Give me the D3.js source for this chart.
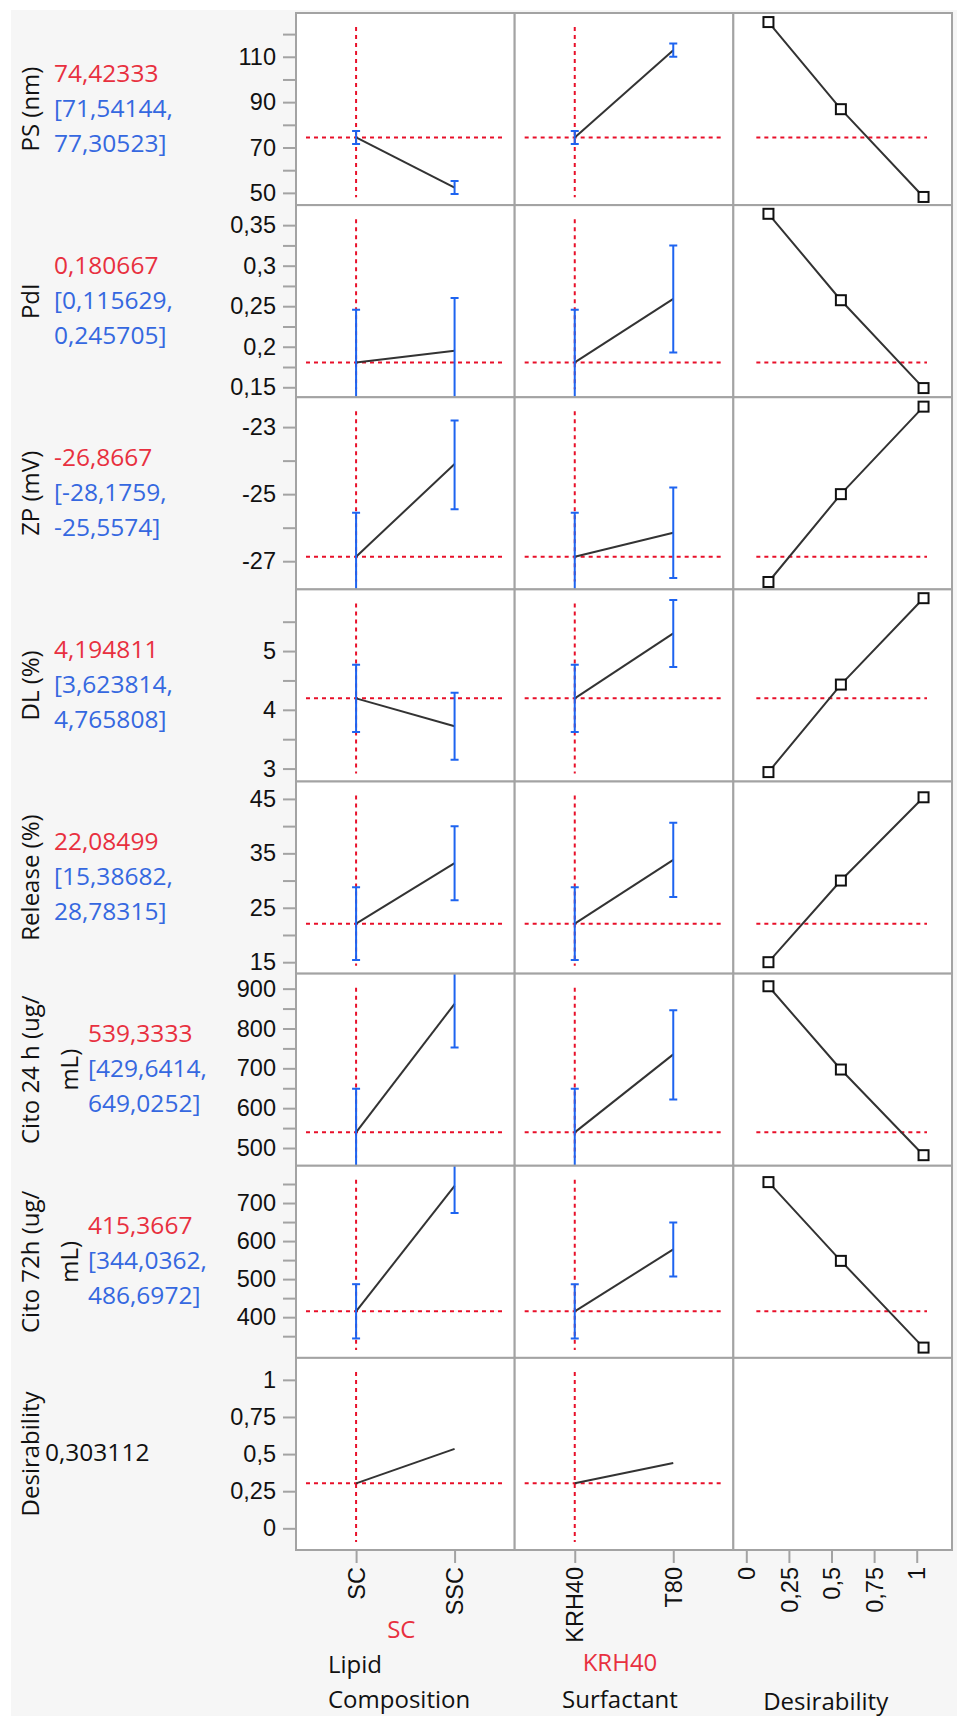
<!DOCTYPE html>
<html>
<head>
<meta charset="utf-8">
<script src="https://cdn.jsdelivr.net/npm/d3@7"></script>
<style>
  body { margin: 0; background: #fff; }
  svg { display: block; font-family: "Open Sans", "Noto Sans", sans-serif; }
</style>
</head>
<body>
<svg id="chart" width="957" height="1716"></svg>
<script>
// responses (rows) and their current predicted value + interval
const rowLabels = [["PS (nm)"], ["PdI"], ["ZP (mV)"], ["DL (%)"], ["Release (%)"],
  ["Cito 24 h (ug/", "mL)"], ["Cito 72h (ug/", "mL)"], ["Desirability"]];
const currentValue = [74.42333, 0.180667, -26.8667, 4.194811, 22.08499, 539.3333, 415.3667, 0.303112];
const currentLow = [71.54144, 0.115629, -28.1759, 3.623814, 15.38682, 429.6414, 344.0362, null];
const currentHigh = [77.30523, 0.245705, -25.5574, 4.765808, 28.78315, 649.0252, 486.6972, null];

// factors
const lipidLevels = ["SC", "SSC"];
const surfactantLevels = ["KRH40", "T80"];
const currentLipid = "SC";
const currentSurfactant = "KRH40";

// profile traces: prediction at each level (other factor at its current setting)
const lipidMean = [[74.42333, 52.3], [0.180667, 0.195], [-26.8667, -24.1], [4.194811, 3.72],
  [22.08499, 33.2], [539.3333, 862], [415.3667, 745], [0.303112, 0.535]];
const lipidLow = [[71.54144, 49.5], [0.115629, 0.130], [-28.1759, -25.45], [3.623814, 3.15],
  [15.38682, 26.4], [429.6414, 752], [344.0362, 674], null];
const lipidHigh = [[77.30523, 55.2], [0.245705, 0.26], [-25.5574, -22.8], [4.765808, 4.29],
  [28.78315, 40.0], [649.0252, 972], [486.6972, 816], null];

const surfMean = [[74.42333, 112.9], [0.180667, 0.259], [-26.8667, -26.15], [4.194811, 5.3],
  [22.08499, 33.8], [539.3333, 735], [415.3667, 578], [0.303112, 0.44]];
const surfLow = [[71.54144, 110.0], [0.115629, 0.193], [-28.1759, -27.5], [3.623814, 4.73],
  [15.38682, 27.0], [429.6414, 622], [344.0362, 507], null];
const surfHigh = [[77.30523, 115.8], [0.245705, 0.325], [-25.5574, -24.8], [4.765808, 5.87],
  [28.78315, 40.6], [649.0252, 846], [486.6972, 649], null];

// desirability functions (desirability on x, response on y)
const desirX = [0.13, 0.555, 1.04];
const desirY = [[125.3, 86.9, 48.2], [0.364, 0.2574, 0.149], [-27.62, -25.0, -22.39],
  [2.94, 4.43, 5.9], [15.0, 30.0, 45.3], [906, 697, 482], [755, 548, 320]];

// axes
const yDomains = [[44.6, 129.3], [0.1377, 0.3747], [-27.84, -22.11], [2.78, 6.05],
  [12.9, 48.2], [455.5, 937.7], [293, 798], [-0.146, 1.148]];
const yMajor = [[50, 70, 90, 110], [0.15, 0.2, 0.25, 0.3, 0.35], [-27, -25, -23], [3, 4, 5],
  [15, 25, 35, 45], [500, 600, 700, 800, 900], [400, 500, 600, 700], [0, 0.25, 0.5, 0.75, 1]];
const yMinor = [[60, 80, 100, 120], [0.175, 0.225, 0.275, 0.325], [-26, -24], [3.5, 4.5, 5.5],
  [20, 30, 40], [550, 650, 750, 850], [350, 450, 550, 650, 750], []];
const desirTicks = [0, 0.25, 0.5, 0.75, 1];
const desirDomain = [-0.076, 1.207];

const RED = "#e8303f", BLUE = "#3568e0", BAR = "#1e64f0", DASH = "#e8102a", GRID = "#a3a3a3";

const loc = d3.formatLocale({decimal: ",", thousands: ".", grouping: [3], currency: ["", ""], minus: "-"});
const fmtVal = loc.format(".7~g");
const fmtTick = loc.format("~g");

const svg = d3.select("#chart");
svg.append("rect").attr("x", 11).attr("y", 10).attr("width", 946).attr("height", 1706).attr("fill", "#f6f6f6");

const L = 296, T = 13, colW = 218.67, rowH = 192.125;
const xLipid = d3.scalePoint().domain(lipidLevels).range([0, colW]).padding(0.61);
const xSurf = d3.scalePoint().domain(surfactantLevels).range([0, colW]).padding(0.61);
const xDesir = d3.scaleLinear().domain(desirDomain).range([0, colW]);

function dashed(g, x1, y1, x2, y2) {
  g.append("line").attr("x1", x1).attr("y1", y1).attr("x2", x2).attr("y2", y2)
    .attr("stroke", DASH).attr("stroke-width", 2).attr("stroke-dasharray", "4,4");
}

function factorPanel(g, x, levels, current, mean, low, high, r, y) {
  dashed(g, x(current), 14, x(current), rowH - 8);
  dashed(g, 10, y(currentValue[r]), colW - 11, y(currentValue[r]));
  const pts = levels.map((lv, i) => [x(lv), y(mean[i])]);
  g.append("path").attr("d", d3.line()(pts)).attr("fill", "none")
    .attr("stroke", "#333").attr("stroke-width", 2);
  if (low) {
    levels.forEach((lv, i) => {
      const bx = x(lv), y1 = y(low[i]), y2 = y(high[i]);
      const eb = g.append("g").attr("stroke", BAR).attr("stroke-width", 2);
      eb.append("line").attr("x1", bx).attr("x2", bx).attr("y1", y1).attr("y2", y2);
      eb.append("line").attr("x1", bx - 4).attr("x2", bx + 4).attr("y1", y1).attr("y2", y1);
      eb.append("line").attr("x1", bx - 4).attr("x2", bx + 4).attr("y1", y2).attr("y2", y2);
    });
  }
}

rowLabels.forEach((lab, r) => {
  const top = T + r * rowH;
  const y = d3.scaleLinear().domain(yDomains[r]).range([rowH, 0]);

  [0, 1, 2].forEach(c => {
    const g = svg.append("g").attr("transform", `translate(${L + c * colW},${top})`);
    g.append("rect").attr("width", colW).attr("height", rowH).attr("fill", "#fff");
    const id = `clip-${r}-${c}`;
    g.append("clipPath").attr("id", id).append("rect").attr("width", colW).attr("height", rowH);
    const inner = g.append("g").attr("clip-path", `url(#${id})`);
    if (c === 0) {
      factorPanel(inner, xLipid, lipidLevels, currentLipid, lipidMean[r], lipidLow[r], lipidHigh[r], r, y);
    } else if (c === 1) {
      factorPanel(inner, xSurf, surfactantLevels, currentSurfactant, surfMean[r], surfLow[r], surfHigh[r], r, y);
    } else if (r < desirY.length) {
      dashed(inner, 23, y(currentValue[r]), colW - 25, y(currentValue[r]));
      const pts = desirX.map((d, i) => [xDesir(d), y(desirY[r][i])]);
      inner.append("path").attr("d", d3.line()(pts)).attr("fill", "none")
        .attr("stroke", "#333").attr("stroke-width", 2);
      inner.selectAll("rect.pt").data(pts).enter().append("rect")
        .attr("x", d => d[0] - 5).attr("y", d => d[1] - 5)
        .attr("width", 10).attr("height", 10)
        .attr("fill", "#fff").attr("stroke", "#111").attr("stroke-width", 2);
    }
    g.append("rect").attr("width", colW).attr("height", rowH)
      .attr("fill", "none").attr("stroke", GRID).attr("stroke-width", 2);
  });

  // y axis (major + minor ticks)
  const ax = svg.append("g").attr("transform", `translate(${L},${top})`);
  ax.append("g").call(d3.axisLeft(y).tickValues(yMinor[r]).tickSize(13).tickFormat(""));
  ax.append("g").call(d3.axisLeft(y).tickValues(yMajor[r]).tickSize(13).tickPadding(7).tickFormat(fmtTick));
  ax.selectAll(".domain").remove();
  ax.selectAll("line").attr("stroke", GRID).attr("stroke-width", 2);
  ax.selectAll("text").attr("font-size", 23.5).attr("fill", "#111").attr("font-family", null);

  // left labels
  const cy = top + rowH / 2;
  const two = lab.length > 1;
  lab.forEach((t, i) => {
    svg.append("text")
      .attr("transform", `translate(${31 + i * 39},${cy}) rotate(-90)`)
      .attr("text-anchor", "middle").attr("dy", "0.35em")
      .attr("font-size", 24).attr("fill", "#111").text(t);
  });
  const vx = two ? 88 : (r === 7 ? 45 : 54);
  if (currentLow[r] !== null) {
    const lines = [[fmtVal(currentValue[r]), RED], ["[" + fmtVal(currentLow[r]) + ",", BLUE],
      [fmtVal(currentHigh[r]) + "]", BLUE]];
    lines.forEach((ln, i) => {
      svg.append("text").attr("x", vx).attr("y", cy + (i - 1) * 35 - 1).attr("dy", "0.35em")
        .attr("font-size", 24.5).attr("fill", ln[1]).text(ln[0]);
    });
  } else {
    svg.append("text").attr("x", vx).attr("y", cy - 2).attr("dy", "0.35em")
      .attr("font-size", 24.5).attr("fill", "#111").text(fmtVal(currentValue[r]));
  }
});

// bottom x axes
const bottom = T + 8 * rowH;
function xAxis(c, scale, ticks, fmt) {
  const g = svg.append("g").attr("transform", `translate(${L + c * colW},${bottom})`);
  const axis = d3.axisBottom(scale).tickSize(13);
  if (ticks) axis.tickValues(ticks);
  if (fmt) axis.tickFormat(fmt);
  g.call(axis);
  g.select(".domain").remove();
  g.selectAll("line").attr("stroke", GRID).attr("stroke-width", 2);
  g.selectAll("text").attr("font-size", 23.5).attr("fill", "#111").attr("font-family", null)
    .attr("transform", "rotate(-90)").attr("text-anchor", "end")
    .attr("x", -17).attr("y", 0).attr("dy", "0.35em");
}
xAxis(0, xLipid);
xAxis(1, xSurf);
xAxis(2, xDesir, desirTicks, fmtTick);

// factor names and current settings
const col1c = L + colW / 2 - 4, col2c = L + colW * 1.5 - 4, col3c = L + colW * 2.5 - 17;
svg.append("text").attr("x", col1c).attr("y", 1630).attr("dy", "0.35em").attr("text-anchor", "middle")
  .attr("font-size", 24).attr("fill", RED).text(currentLipid);
svg.append("text").attr("x", 328).attr("y", 1665).attr("dy", "0.35em")
  .attr("font-size", 24).attr("fill", "#111").text("Lipid");
svg.append("text").attr("x", 328).attr("y", 1700).attr("dy", "0.35em")
  .attr("font-size", 24).attr("fill", "#111").text("Composition");
svg.append("text").attr("x", col2c).attr("y", 1663).attr("dy", "0.35em").attr("text-anchor", "middle")
  .attr("font-size", 24).attr("fill", RED).text(currentSurfactant);
svg.append("text").attr("x", col2c).attr("y", 1700).attr("dy", "0.35em").attr("text-anchor", "middle")
  .attr("font-size", 24).attr("fill", "#111").text("Surfactant");
svg.append("text").attr("x", col3c).attr("y", 1702).attr("dy", "0.35em").attr("text-anchor", "middle")
  .attr("font-size", 24).attr("fill", "#111").text("Desirability");
</script>
</body>
</html>
